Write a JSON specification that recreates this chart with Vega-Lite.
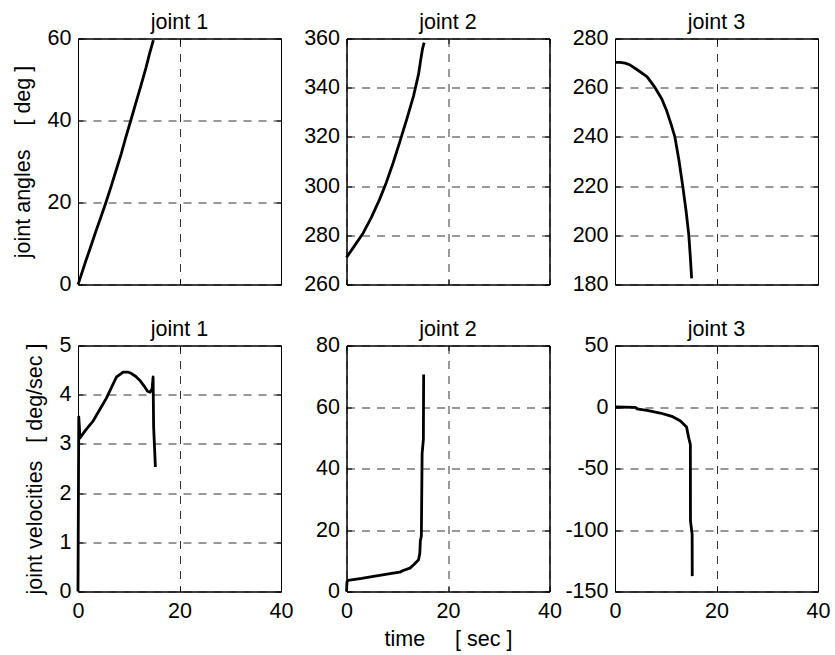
{
  "$schema": "https://vega.github.io/schema/vega-lite/v6.json",
  "padding": {"left": 11, "top": 11.5, "right": 0, "bottom": 0},
  "background": "white",
  "data": {"values": [
    {"p": "a1", "t": 0, "v": 0}, {"p": "a1", "t": 0.2, "v": 0.7}, {"p": "a1", "t": 1.5, "v": 5.6}, {"p": "a1", "t": 2.5, "v": 9.2}, {"p": "a1", "t": 3.5, "v": 12.9}, {"p": "a1", "t": 4.5, "v": 16.4}, {"p": "a1", "t": 5.5, "v": 20.0}, {"p": "a1", "t": 6.5, "v": 23.8}, {"p": "a1", "t": 7.5, "v": 27.8}, {"p": "a1", "t": 8.5, "v": 31.8}, {"p": "a1", "t": 9.4, "v": 35.8}, {"p": "a1", "t": 10.4, "v": 40.0}, {"p": "a1", "t": 11.4, "v": 44.3}, {"p": "a1", "t": 12.4, "v": 48.5}, {"p": "a1", "t": 13.4, "v": 52.9}, {"p": "a1", "t": 14.1, "v": 56.3}, {"p": "a1", "t": 14.85, "v": 59.6},
    {"p": "a2", "t": 0, "v": 271}, {"p": "a2", "t": 1.5, "v": 275.5}, {"p": "a2", "t": 3.2, "v": 280.6}, {"p": "a2", "t": 4.9, "v": 287.3}, {"p": "a2", "t": 6.5, "v": 294.5}, {"p": "a2", "t": 7.85, "v": 301.5}, {"p": "a2", "t": 9.2, "v": 309.5}, {"p": "a2", "t": 10.5, "v": 318}, {"p": "a2", "t": 11.85, "v": 327}, {"p": "a2", "t": 13.2, "v": 336.6}, {"p": "a2", "t": 14.2, "v": 345.5}, {"p": "a2", "t": 14.6, "v": 351}, {"p": "a2", "t": 15.0, "v": 356}, {"p": "a2", "t": 15.3, "v": 358.3},
    {"p": "a3", "t": 0, "v": 270.3}, {"p": "a3", "t": 1, "v": 270.3}, {"p": "a3", "t": 2, "v": 270.0}, {"p": "a3", "t": 3, "v": 269.2}, {"p": "a3", "t": 4.3, "v": 267.4}, {"p": "a3", "t": 6.3, "v": 264.5}, {"p": "a3", "t": 7.9, "v": 260}, {"p": "a3", "t": 9.2, "v": 255.5}, {"p": "a3", "t": 10.2, "v": 250.5}, {"p": "a3", "t": 11.0, "v": 245.5}, {"p": "a3", "t": 11.8, "v": 240}, {"p": "a3", "t": 12.6, "v": 230.5}, {"p": "a3", "t": 13.35, "v": 220}, {"p": "a3", "t": 14.0, "v": 210}, {"p": "a3", "t": 14.55, "v": 200}, {"p": "a3", "t": 14.85, "v": 191}, {"p": "a3", "t": 15.1, "v": 182.5},
    {"p": "b1", "t": 0, "v": 0}, {"p": "b1", "t": 0.15, "v": 3.55}, {"p": "b1", "t": 0.4, "v": 3.12}, {"p": "b1", "t": 1.5, "v": 3.28}, {"p": "b1", "t": 3, "v": 3.47}, {"p": "b1", "t": 4.3, "v": 3.7}, {"p": "b1", "t": 5.6, "v": 3.93}, {"p": "b1", "t": 6.6, "v": 4.15}, {"p": "b1", "t": 7.6, "v": 4.36}, {"p": "b1", "t": 8.9, "v": 4.46}, {"p": "b1", "t": 9.8, "v": 4.46}, {"p": "b1", "t": 10.55, "v": 4.43}, {"p": "b1", "t": 11.4, "v": 4.37}, {"p": "b1", "t": 12.2, "v": 4.29}, {"p": "b1", "t": 13.0, "v": 4.18}, {"p": "b1", "t": 13.7, "v": 4.07}, {"p": "b1", "t": 14.2, "v": 4.05}, {"p": "b1", "t": 14.6, "v": 4.12}, {"p": "b1", "t": 14.8, "v": 4.36}, {"p": "b1", "t": 14.9, "v": 3.35}, {"p": "b1", "t": 15.25, "v": 2.53},
    {"p": "b2", "t": 0, "v": 0}, {"p": "b2", "t": 0.1, "v": 3.2}, {"p": "b2", "t": 0.3, "v": 3.6}, {"p": "b2", "t": 3, "v": 4.25}, {"p": "b2", "t": 5.6, "v": 5.0}, {"p": "b2", "t": 8.9, "v": 5.9}, {"p": "b2", "t": 10.5, "v": 6.3}, {"p": "b2", "t": 11.3, "v": 6.9}, {"p": "b2", "t": 12.5, "v": 7.6}, {"p": "b2", "t": 13.3, "v": 8.8}, {"p": "b2", "t": 14.2, "v": 10.3}, {"p": "b2", "t": 14.45, "v": 12.5}, {"p": "b2", "t": 14.55, "v": 16.5}, {"p": "b2", "t": 14.75, "v": 18}, {"p": "b2", "t": 14.9, "v": 44.8}, {"p": "b2", "t": 15.15, "v": 49.5}, {"p": "b2", "t": 15.2, "v": 70.6},
    {"p": "b3", "t": 0, "v": 0}, {"p": "b3", "t": 4.0, "v": -0.3}, {"p": "b3", "t": 4.3, "v": -1.5}, {"p": "b3", "t": 6.3, "v": -2.7}, {"p": "b3", "t": 8.9, "v": -4.9}, {"p": "b3", "t": 11.2, "v": -7.6}, {"p": "b3", "t": 12.9, "v": -11.4}, {"p": "b3", "t": 14.1, "v": -16.3}, {"p": "b3", "t": 14.5, "v": -24.5}, {"p": "b3", "t": 14.85, "v": -30.5}, {"p": "b3", "t": 14.87, "v": -92.6}, {"p": "b3", "t": 15.2, "v": -103.5}, {"p": "b3", "t": 15.22, "v": -137.5}
  ]},
  "columns": 3,
  "spacing": {"row": 61, "column": 65.5},
  "bounds": "flush",
  "concat": [
    {
      "title": "joint 1", "width": 203, "height": 246,
      "transform": [{"filter": "datum.p == 'a1'"}],
      "layer": [
        {"mark": {"type": "line", "color": "black", "strokeWidth": 2.8, "strokeJoin": "round"},
         "encoding": {
           "x": {"field": "t", "type": "quantitative", "scale": {"domain": [0, 40], "nice": false}, "axis": {"values": [0, 20, 40], "labels": false, "title": null, "grid": true}},
           "y": {"field": "v", "type": "quantitative", "scale": {"domain": [0, 60], "nice": false, "zero": false}, "axis": {"values": [0, 20, 40, 60], "title": "joint angles\u00a0\u00a0\u00a0\u00a0[ deg ]", "grid": true}}
         }},
        {"mark": {"type": "point", "opacity": 0},
         "encoding": {
           "x": {"field": "t", "type": "quantitative", "scale": {"domain": [0, 40], "nice": false}, "axis": {"orient": "top", "values": [0, 20, 40], "labels": false, "title": null, "grid": false}},
           "y": {"field": "v", "type": "quantitative", "scale": {"domain": [0, 60], "nice": false, "zero": false}, "axis": {"orient": "right", "values": [0, 20, 40, 60], "labels": false, "title": null, "grid": false}}
         }}
      ],
      "resolve": {"axis": {"x": "independent", "y": "independent"}}
    },
    {
      "title": "joint 2", "width": 203, "height": 246,
      "transform": [{"filter": "datum.p == 'a2'"}],
      "layer": [
        {"mark": {"type": "line", "color": "black", "strokeWidth": 2.8, "strokeJoin": "round"},
         "encoding": {
           "x": {"field": "t", "type": "quantitative", "scale": {"domain": [0, 40], "nice": false}, "axis": {"values": [0, 20, 40], "labels": false, "title": null, "grid": true}},
           "y": {"field": "v", "type": "quantitative", "scale": {"domain": [260, 360], "nice": false, "zero": false}, "axis": {"values": [260, 280, 300, 320, 340, 360], "title": null, "grid": true}}
         }},
        {"mark": {"type": "point", "opacity": 0},
         "encoding": {
           "x": {"field": "t", "type": "quantitative", "scale": {"domain": [0, 40], "nice": false}, "axis": {"orient": "top", "values": [0, 20, 40], "labels": false, "title": null, "grid": false}},
           "y": {"field": "v", "type": "quantitative", "scale": {"domain": [260, 360], "nice": false, "zero": false}, "axis": {"orient": "right", "values": [260, 280, 300, 320, 340, 360], "labels": false, "title": null, "grid": false}}
         }}
      ],
      "resolve": {"axis": {"x": "independent", "y": "independent"}}
    },
    {
      "title": "joint 3", "width": 203, "height": 246,
      "transform": [{"filter": "datum.p == 'a3'"}],
      "layer": [
        {"mark": {"type": "line", "color": "black", "strokeWidth": 2.8, "strokeJoin": "round"},
         "encoding": {
           "x": {"field": "t", "type": "quantitative", "scale": {"domain": [0, 40], "nice": false}, "axis": {"values": [0, 20, 40], "labels": false, "title": null, "grid": true}},
           "y": {"field": "v", "type": "quantitative", "scale": {"domain": [180, 280], "nice": false, "zero": false}, "axis": {"values": [180, 200, 220, 240, 260, 280], "title": null, "grid": true}}
         }},
        {"mark": {"type": "point", "opacity": 0},
         "encoding": {
           "x": {"field": "t", "type": "quantitative", "scale": {"domain": [0, 40], "nice": false}, "axis": {"orient": "top", "values": [0, 20, 40], "labels": false, "title": null, "grid": false}},
           "y": {"field": "v", "type": "quantitative", "scale": {"domain": [180, 280], "nice": false, "zero": false}, "axis": {"orient": "right", "values": [180, 200, 220, 240, 260, 280], "labels": false, "title": null, "grid": false}}
         }}
      ],
      "resolve": {"axis": {"x": "independent", "y": "independent"}}
    },
    {
      "title": "joint 1", "width": 203, "height": 246,
      "transform": [{"filter": "datum.p == 'b1'"}],
      "layer": [
        {"mark": {"type": "line", "color": "black", "strokeWidth": 2.8, "strokeJoin": "round"},
         "encoding": {
           "x": {"field": "t", "type": "quantitative", "scale": {"domain": [0, 40], "nice": false}, "axis": {"values": [0, 20, 40], "title": null, "grid": true}},
           "y": {"field": "v", "type": "quantitative", "scale": {"domain": [0, 5], "nice": false, "zero": false}, "axis": {"values": [0, 1, 2, 3, 4, 5], "title": "joint velocities\u00a0\u00a0\u00a0[ deg/sec ]", "grid": true}}
         }},
        {"mark": {"type": "point", "opacity": 0},
         "encoding": {
           "x": {"field": "t", "type": "quantitative", "scale": {"domain": [0, 40], "nice": false}, "axis": {"orient": "top", "values": [0, 20, 40], "labels": false, "title": null, "grid": false}},
           "y": {"field": "v", "type": "quantitative", "scale": {"domain": [0, 5], "nice": false, "zero": false}, "axis": {"orient": "right", "values": [0, 1, 2, 3, 4, 5], "labels": false, "title": null, "grid": false}}
         }}
      ],
      "resolve": {"axis": {"x": "independent", "y": "independent"}}
    },
    {
      "title": "joint 2", "width": 203, "height": 246,
      "transform": [{"filter": "datum.p == 'b2'"}],
      "layer": [
        {"mark": {"type": "line", "color": "black", "strokeWidth": 2.8, "strokeJoin": "round"},
         "encoding": {
           "x": {"field": "t", "type": "quantitative", "scale": {"domain": [0, 40], "nice": false}, "axis": {"values": [0, 20, 40], "title": "time\u00a0\u00a0\u00a0\u00a0\u00a0[ sec ]", "grid": true}},
           "y": {"field": "v", "type": "quantitative", "scale": {"domain": [0, 80], "nice": false, "zero": false}, "axis": {"values": [0, 20, 40, 60, 80], "title": null, "grid": true}}
         }},
        {"mark": {"type": "point", "opacity": 0},
         "encoding": {
           "x": {"field": "t", "type": "quantitative", "scale": {"domain": [0, 40], "nice": false}, "axis": {"orient": "top", "values": [0, 20, 40], "labels": false, "title": null, "grid": false}},
           "y": {"field": "v", "type": "quantitative", "scale": {"domain": [0, 80], "nice": false, "zero": false}, "axis": {"orient": "right", "values": [0, 20, 40, 60, 80], "labels": false, "title": null, "grid": false}}
         }}
      ],
      "resolve": {"axis": {"x": "independent", "y": "independent"}}
    },
    {
      "title": "joint 3", "width": 203, "height": 246,
      "transform": [{"filter": "datum.p == 'b3'"}],
      "layer": [
        {"mark": {"type": "line", "color": "black", "strokeWidth": 2.8, "strokeJoin": "round"},
         "encoding": {
           "x": {"field": "t", "type": "quantitative", "scale": {"domain": [0, 40], "nice": false}, "axis": {"values": [0, 20, 40], "title": null, "grid": true}},
           "y": {"field": "v", "type": "quantitative", "scale": {"domain": [-150, 50], "nice": false, "zero": false}, "axis": {"values": [-150, -100, -50, 0, 50], "labelExpr": "'' + datum.value", "title": null, "grid": true}}
         }},
        {"mark": {"type": "point", "opacity": 0},
         "encoding": {
           "x": {"field": "t", "type": "quantitative", "scale": {"domain": [0, 40], "nice": false}, "axis": {"orient": "top", "values": [0, 20, 40], "labels": false, "title": null, "grid": false}},
           "y": {"field": "v", "type": "quantitative", "scale": {"domain": [-150, 50], "nice": false, "zero": false}, "axis": {"orient": "right", "values": [-150, -100, -50, 0, 50], "labels": false, "title": null, "grid": false}}
         }}
      ],
      "resolve": {"axis": {"x": "independent", "y": "independent"}}
    }
  ],
  "config": {
    "font": "Liberation Sans",
    "view": {"stroke": "black", "strokeWidth": 1},
    "axis": {
      "labelFont": "Liberation Sans", "labelFontSize": 21.5, "labelColor": "black",
      "titleFont": "Liberation Sans", "titleFontSize": 21.5, "titleFontWeight": "normal", "titleColor": "black",
      "domainColor": "black", "domainWidth": 1, "tickColor": "black", "tickSize": -5, "tickWidth": 1,
      "gridColor": "#333333", "gridDash": [8, 7], "gridOpacity": 1, "gridWidth": 1,
      "labelFlush": false, "labelOverlap": false, "labelBound": false, "labelPadding": 12
    },
    "axisX": {"labelPadding": 14, "titlePadding": 6},
    "axisY": {"titlePadding": 13},
    "title": {"font": "Liberation Sans", "fontSize": 21.5, "fontWeight": "normal", "color": "black", "offset": -6, "frame": "group"}
  }
}
